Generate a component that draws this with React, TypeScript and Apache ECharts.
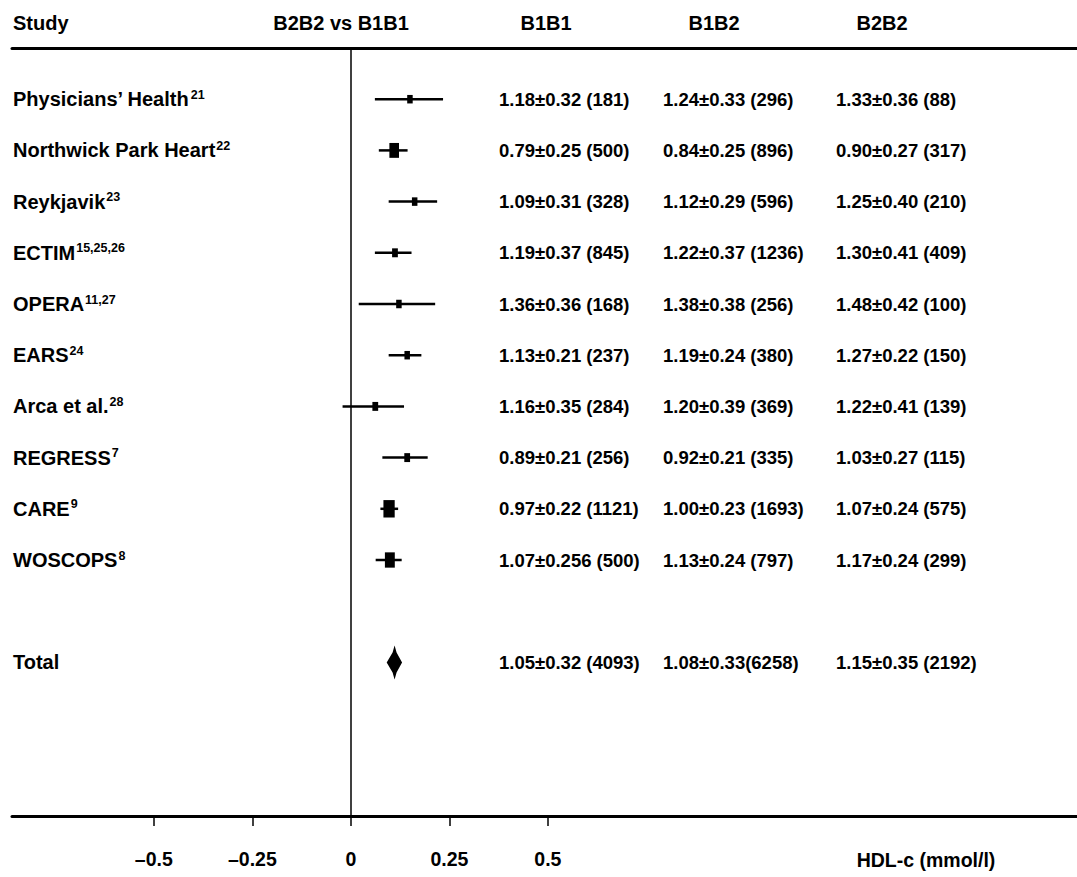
import React, { useEffect, useRef } from "react";
import * as echarts from "echarts";

// ---------- data ----------
const studyNames = [
  "Physicians’ Health",
  "Northwick Park Heart",
  "Reykjavik",
  "ECTIM",
  "OPERA",
  "EARS",
  "Arca et al.",
  "REGRESS",
  "CARE",
  "WOSCOPS",
  "Total",
];
const studyRefs = ["21", "22", "23", "15,25,26", "11,27", "24", "28", "7", "9", "8", ""];
const rowPositions = [0, 1, 2, 3, 4, 5, 6, 7, 8, 9, 11];
const diffEstimate = [0.15, 0.11, 0.162, 0.112, 0.122, 0.143, 0.062, 0.143, 0.097, 0.099, 0.111];
const diffLower = [0.061, 0.071, 0.096, 0.061, 0.02, 0.096, -0.021, 0.08, 0.075, 0.063, 0.091];
const diffUpper = [0.234, 0.144, 0.219, 0.154, 0.214, 0.179, 0.135, 0.195, 0.12, 0.129, 0.13];
const studyWeight = [1, 1.75, 1, 1.05, 1, 1, 1.05, 1.05, 2.05, 1.8, 0];
const isPooled = [false, false, false, false, false, false, false, false, false, false, true];
const b1b1Values = [
  "1.18±0.32 (181)",
  "0.79±0.25 (500)",
  "1.09±0.31 (328)",
  "1.19±0.37 (845)",
  "1.36±0.36 (168)",
  "1.13±0.21 (237)",
  "1.16±0.35 (284)",
  "0.89±0.21 (256)",
  "0.97±0.22 (1121)",
  "1.07±0.256 (500)",
  "1.05±0.32 (4093)",
];
const b1b2Values = [
  "1.24±0.33 (296)",
  "0.84±0.25 (896)",
  "1.12±0.29 (596)",
  "1.22±0.37 (1236)",
  "1.38±0.38 (256)",
  "1.19±0.24 (380)",
  "1.20±0.39 (369)",
  "0.92±0.21 (335)",
  "1.00±0.23 (1693)",
  "1.13±0.24 (797)",
  "1.08±0.33(6258)",
];
const b2b2Values = [
  "1.33±0.36 (88)",
  "0.90±0.27 (317)",
  "1.25±0.40 (210)",
  "1.30±0.41 (409)",
  "1.48±0.42 (100)",
  "1.27±0.22 (150)",
  "1.22±0.41 (139)",
  "1.03±0.27 (115)",
  "1.07±0.24 (575)",
  "1.17±0.24 (299)",
  "1.15±0.35 (2192)",
];
const columnHeaders = ["Study", "B2B2 vs B1B1", "B1B1", "B1B2", "B2B2"];
const xTickValues = [-0.5, -0.25, 0, 0.25, 0.5];
const xTickLabels = ["–0.5", "–0.25", "0", "0.25", "0.5"];
const xAxisName = "HDL-c (mmol/l)";

// ---------- style ----------
const FONT = "'Liberation Sans', Arial, Helvetica, sans-serif";
const FS_NAME = 20;
const FS_HEAD = 20;
const FS_VAL = 18.5;
const FS_AXIS = 19.5;

export default function App() {
  const ref = useRef<HTMLDivElement>(null);

  useEffect(() => {
    if (!ref.current) return;
    const chart = echarts.init(ref.current, undefined, { renderer: "svg" });

    const markData = rowPositions.map((r, i) => [
      r,
      diffEstimate[i],
      diffLower[i],
      diffUpper[i],
      studyWeight[i],
      isPooled[i] ? 1 : 0,
    ]);
    const textData = rowPositions.map((r, i) => [r, i]);

    const colX = [13, 499, 663, 836];
    const headerX = [13, 341, 546, 714, 882];

    const option: any = {
      animation: false,
      backgroundColor: "#ffffff",
      grid: { left: 12, right: 0, top: 48, bottom: 61, containLabel: false },
      xAxis: [
        {
          type: "value",
          min: -0.86,
          max: 1.843,
          position: "bottom",
          axisLine: { show: true, onZero: false, lineStyle: { color: "#000", width: 3 } },
          axisTick: {
            show: true,
            customValues: xTickValues,
            length: 10,
            lineStyle: { color: "#000", width: 1.5 },
          },
          axisLabel: {
            show: true,
            customValues: xTickValues,
            margin: 33,
            color: "#000",
            fontFamily: FONT,
            fontWeight: "bold",
            fontSize: FS_AXIS,
            formatter: (v: number) => {
              const k = xTickValues.findIndex((t) => Math.abs(t - v) < 1e-9);
              return k >= 0 ? xTickLabels[k] : "";
            },
          },
          splitLine: { show: false },
        },
        {
          type: "value",
          min: -0.86,
          max: 1.843,
          position: "top",
          axisLine: { show: true, onZero: false, lineStyle: { color: "#000", width: 3 } },
          axisTick: { show: false },
          axisLabel: { show: false },
          splitLine: { show: false },
        },
      ],
      yAxis: {
        type: "value",
        min: -1,
        max: 14,
        inverse: true,
        show: false,
        splitLine: { show: false },
      },
      graphic: [
        ...columnHeaders.map((h, i) => ({
          type: "text",
          x: headerX[i],
          y: 23,
          style: {
            text: h,
            fill: "#000",
            font: `bold ${FS_HEAD}px ${FONT}`,
            align: i === 0 ? "left" : "center",
            verticalAlign: "middle",
          },
        })),
        {
          type: "text",
          x: 926,
          y: 860,
          style: {
            text: xAxisName,
            fill: "#000",
            font: `bold ${FS_AXIS}px ${FONT}`,
            align: "center",
            verticalAlign: "middle",
          },
        },
      ],
      series: [
        {
          type: "custom",
          name: "forest",
          coordinateSystem: "cartesian2d",
          xAxisIndex: 0,
          yAxisIndex: 0,
          clip: false,
          encode: { x: [1, 2, 3], y: 0 },
          data: markData,
          renderItem: (params: any, api: any) => {
            const row = api.value(0);
            const est = api.value(1);
            const lo = api.value(2);
            const hi = api.value(3);
            const w = api.value(4);
            const pooled = api.value(5);
            const pc = api.coord([est, row]);
            const pl = api.coord([lo, row]);
            const ph = api.coord([hi, row]);
            if (pooled) {
              return {
                type: "polygon",
                shape: {
                  points: [
                    [pl[0], pc[1]],
                    [pc[0] - 2, pc[1] - 10],
                    [pc[0], pc[1] - 17],
                    [pc[0] + 2, pc[1] - 10],
                    [ph[0], pc[1]],
                    [pc[0] + 2, pc[1] + 10],
                    [pc[0], pc[1] + 17],
                    [pc[0] - 2, pc[1] + 10],
                  ],
                },
                style: { fill: "#000" },
              };
            }
            const bw = 5.5 * w;
            const bh = 8.5 * w;
            return {
              type: "group",
              children: [
                {
                  type: "line",
                  shape: { x1: pl[0], y1: pl[1], x2: ph[0], y2: ph[1] },
                  style: { stroke: "#000", lineWidth: 2.5 },
                },
                {
                  type: "rect",
                  shape: { x: pc[0] - bw / 2, y: pc[1] - bh / 2, width: bw, height: bh },
                  style: { fill: "#000" },
                },
              ],
            };
          },
          markLine: {
            silent: true,
            symbol: "none",
            label: { show: false },
            lineStyle: { color: "#000", width: 1.5, type: "solid" },
            data: [{ xAxis: 0 }],
          },
          z: 3,
        },
        {
          type: "custom",
          name: "texts",
          coordinateSystem: "cartesian2d",
          clip: false,
          encode: { y: 0 },
          data: textData,
          renderItem: (params: any, api: any) => {
            const row = api.value(0);
            const i = api.value(1);
            const y = api.coord([0, row])[1];
            const sup = studyRefs[i];
            const nameText = sup ? `{n|${studyNames[i]}}{s|${sup}}` : `{n|${studyNames[i]}}`;
            const base = {
              fill: "#000",
              font: `bold ${FS_VAL}px ${FONT}`,
              verticalAlign: "middle",
              align: "left",
            };
            return {
              type: "group",
              children: [
                {
                  type: "text",
                  x: colX[0],
                  y,
                  style: {
                    ...base,
                    font: `bold ${FS_NAME}px ${FONT}`,
                    text: nameText,
                    rich: {
                      n: {
                        fontFamily: FONT,
                        fontWeight: "bold",
                        fontSize: FS_NAME,
                        lineHeight: 22,
                        color: "#000",
                        verticalAlign: "middle",
                      },
                      s: {
                        fontFamily: FONT,
                        fontWeight: "bold",
                        fontSize: 12.5,
                        lineHeight: 13,
                        color: "#000",
                        verticalAlign: "top",
                        padding: [0, 0, 0, 1],
                      },
                    },
                  },
                },
                { type: "text", x: colX[1], y, style: { ...base, text: b1b1Values[i] } },
                { type: "text", x: colX[2], y, style: { ...base, text: b1b2Values[i] } },
                { type: "text", x: colX[3], y, style: { ...base, text: b2b2Values[i] } },
              ],
            };
          },
          z: 4,
        },
      ],
    };

    chart.setOption(option);
    return () => chart.dispose();
  }, []);

  return (
    <div
      ref={ref}
      style={{ position: "fixed", left: 0, top: 0, width: 1077, height: 877, background: "#fff" }}
    />
  );
}
